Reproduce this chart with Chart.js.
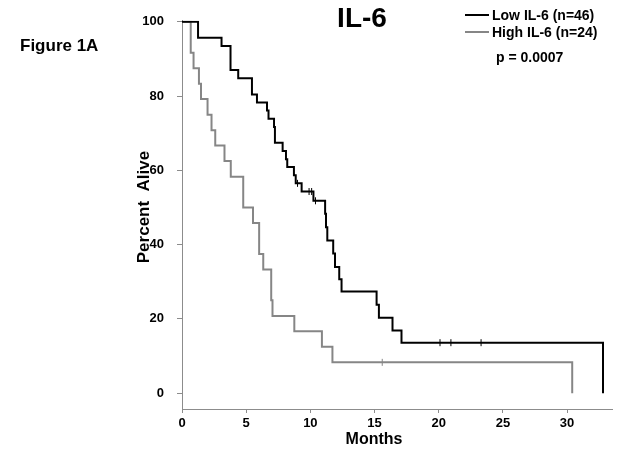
<!DOCTYPE html>
<html>
<head>
<meta charset="utf-8">
<script src="https://cdn.jsdelivr.net/npm/chart.js@4"></script>
<style>
  body { margin: 0; background: #fff; }
  #wrap { width: 624px; height: 454px; }
</style>
</head>
<body>
<div id="wrap"><canvas id="kmChart" width="624" height="454"></canvas></div>
<script>
// Kaplan-Meier curves (months, percent alive after each step)
const lowMonths = [0, 1.25, 3.08, 3.78, 4.38, 5.45, 5.84, 6.62, 6.74, 7.17, 7.24, 7.84, 8.1, 8.2, 8.72, 8.86, 9.32, 10.24, 11.15, 11.22, 11.32, 11.78, 11.92, 12.25, 12.43, 15.16, 15.34, 16.4, 17.1, 32.8];
const lowSurv = [100, 95.7, 93.5, 87.0, 84.8, 80.4, 78.3, 76.1, 73.9, 71.7, 67.4, 65.2, 63.0, 60.9, 58.7, 56.5, 54.3, 51.8, 48.3, 44.7, 41.1, 37.6, 34.0, 30.7, 27.4, 23.8, 20.3, 16.9, 13.6, 0];
const highMonths = [0, 0.68, 0.9, 1.32, 1.48, 1.99, 2.3, 2.59, 3.31, 3.8, 4.77, 5.53, 6.01, 6.33, 6.95, 7.05, 8.75, 10.9, 11.72, 30.4];
const highSurv = [100, 91.7, 87.5, 83.3, 79.2, 75.0, 70.8, 66.7, 62.5, 58.3, 50.0, 45.8, 37.5, 33.3, 25.0, 20.8, 16.7, 12.5, 8.3, 0];

// censored patients (tick marks)
const lowCensorMonths = [9.0, 9.9, 10.1, 10.4, 20.1, 20.95, 23.3];
const lowCensorSurv = [56.5, 54.3, 54.3, 51.8, 13.6, 13.6, 13.6];
const highCensorMonths = [15.6];
const highCensorSurv = [8.3];

const xTicks = [0, 5, 10, 15, 20, 25, 30];
const yTicks = [0, 20, 40, 60, 80, 100];

const seriesNames = ['Low IL-6 (n=46)', 'High IL-6 (n=24)'];
const pValueText = 'p = 0.0007';

const BLACK = '#000000';
const GRAY = '#868686';
const AXIS = '#8c8c8c';
const FONT = "'Liberation Sans', Arial, sans-serif";

function toPoints(xs, ys) {
  return xs.map((x, i) => ({ x: x, y: ys[i] }));
}

// extra text: figure label, title, axis titles, legend and p-value
const annotations = {
  id: 'annotations',
  afterDraw(chart) {
    const ctx = chart.ctx;
    ctx.save();
    ctx.fillStyle = '#000';
    ctx.textBaseline = 'middle';

    ctx.font = 'bold 17px ' + FONT;
    ctx.textAlign = 'left';
    ctx.fillText('Figure 1A', 20, 46);

    ctx.font = 'bold 28px ' + FONT;
    ctx.textAlign = 'center';
    ctx.fillText('IL-6', 362, 19);

    // axis titles
    ctx.font = 'bold 16px ' + FONT;
    ctx.fillText('Months', 374, 440);
    ctx.save();
    ctx.translate(144, 207);
    ctx.rotate(-Math.PI / 2);
    ctx.font = 'bold 17px ' + FONT;
    ctx.fillText('Percent  Alive', 0, 0);
    ctx.restore();

    ctx.font = 'bold 14px ' + FONT;
    ctx.textAlign = 'left';
    const rows = [{ y: 15, c: BLACK }, { y: 32, c: GRAY }];
    rows.forEach((r, i) => {
      ctx.strokeStyle = r.c;
      ctx.lineWidth = 2;
      ctx.beginPath();
      ctx.moveTo(465, r.y);
      ctx.lineTo(489, r.y);
      ctx.stroke();
      ctx.fillText(seriesNames[i], 492, r.y + 1);
    });
    ctx.fillText(pValueText, 496, 58);
    ctx.restore();
  }
};

const ctx = document.getElementById('kmChart').getContext('2d');
new Chart(ctx, {
  type: 'line',
  data: {
    datasets: [
      {
        label: seriesNames[0],
        data: toPoints(lowMonths, lowSurv),
        borderColor: BLACK,
        borderWidth: 2,
        stepped: true,
        pointRadius: 0,
        fill: false
      },
      {
        label: seriesNames[1],
        data: toPoints(highMonths, highSurv),
        borderColor: GRAY,
        borderWidth: 2,
        stepped: true,
        pointRadius: 0,
        fill: false
      },
      {
        type: 'scatter',
        data: toPoints(lowCensorMonths, lowCensorSurv),
        pointStyle: 'line',
        rotation: 90,
        pointRadius: 3.5,
        borderColor: BLACK,
        borderWidth: 1
      },
      {
        type: 'scatter',
        data: toPoints(highCensorMonths, highCensorSurv),
        pointStyle: 'line',
        rotation: 90,
        pointRadius: 3.5,
        borderColor: GRAY,
        borderWidth: 1
      }
    ]
  },
  options: {
    responsive: false,
    animation: false,
    layout: { padding: { left: 134, top: 16, right: 12, bottom: 0 } },
    plugins: {
      legend: { display: false },
      tooltip: { enabled: false }
    },
    scales: {
      x: {
        type: 'linear',
        min: 0,
        max: 33.5,
        afterBuildTicks: s => { s.ticks = xTicks.map(v => ({ value: v })); },
        afterFit: s => { s.height = 45; },
        border: { color: AXIS, width: 1 },
        grid: { drawOnChartArea: false, color: AXIS, tickLength: 4 },
        ticks: { color: '#000', padding: 3, font: { family: FONT, size: 13, weight: 'bold' } }
      },
      y: {
        type: 'linear',
        min: -4.26,
        max: 100.27,
        afterBuildTicks: s => { s.ticks = yTicks.map(v => ({ value: v })); },
        afterFit: s => { s.width = 48; },
        border: { color: AXIS, width: 1 },
        grid: { drawOnChartArea: false, color: AXIS, tickLength: 5 },
        ticks: { color: '#000', padding: 13, font: { family: FONT, size: 13, weight: 'bold' } }
      }
    }
  },
  plugins: [annotations]
});
</script>
</body>
</html>
